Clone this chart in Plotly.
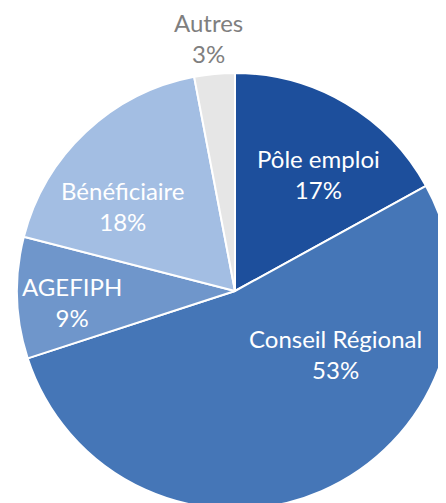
import plotly.graph_objects as go

# sources de financement (%)
labels = ['Pôle emploi', 'Conseil Régional', 'AGEFIPH', 'Bénéficiaire', 'Autres']
values = [17, 53, 9, 18, 3]
colors = ['#1D4F9C', '#4576B7', '#6F96CB', '#A3BEE3', '#E6E6E6']

W, H = 458, 515  # un peu plus grand que la fenetre : le camembert deborde a droite et en bas
OFF = 8  # marge du body de la page

# centre des etiquettes en pixels (x, y depuis le haut)
lblpos = [(318, 174), (335, 354), (72, 302), (123, 206), (208, 38)]
lblcol = ['white', 'white', 'white', 'white', '#7F7F7F']

cx, cy, r = 235 - OFF, 291 - OFF, 218

fig = go.Figure()
fig.add_trace(go.Pie(
    labels=labels, values=values,
    sort=False, direction='clockwise', rotation=0,
    marker=dict(colors=colors, line=dict(color='white', width=2)),
    textinfo='none', hoverinfo='label+percent',
    domain=dict(x=[(cx - r) / W, (cx + r) / W], y=[(H - cy - r) / H, (H - cy + r) / H]),
    showlegend=False,
))

for lab, v, (px_, py_), c in zip(labels, values, lblpos, lblcol):
    fig.add_annotation(
        x=(px_ - OFF) / W, y=1 - (py_ - OFF) / H, xref='paper', yref='paper',
        text=f'{lab}<br>{v}%', showarrow=False,
        xanchor='center', yanchor='middle', align='center',
        font=dict(family='Lato', size=24, color=c),
    )

fig.update_layout(
    width=W, height=H,
    margin=dict(l=0, r=0, t=0, b=0),
    paper_bgcolor='white', plot_bgcolor='white',
)

fig.write_html("out.html")
